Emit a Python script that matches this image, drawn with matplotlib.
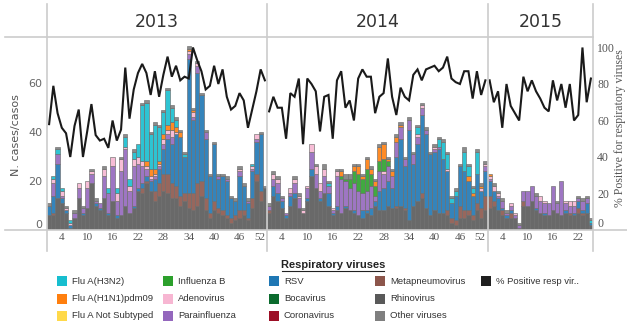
import matplotlib
matplotlib.use('Agg')
import matplotlib.pyplot as plt
import numpy as np
from matplotlib.patches import Rectangle

# ---- data (weekly counts) ----
rhino_2013 = [6,6,13,11,7,1,5,13,6,9,19,10,8,13,6,12,5,6,10,7,9,16,15,19,16,12,14,16,15,13,13,10,12,9,8,10,14,8,5,8,7,6,5,3,4,5,6,4,9,20,12,17]
metap_2013 = [0,1,0,0,0,0,0,0,0,0,0,0,0,0,0,0,0,0,0,0,0,0,2,1,0,4,5,7,8,6,5,4,3,6,7,9,6,5,2,4,2,2,1,2,2,3,2,1,4,3,4,0]
rsv_2013 = [4,7,14,2,1,1,0,0,1,0,0,1,1,0,1,0,1,0,0,0,1,1,2,2,4,5,6,10,14,16,21,24,15,55,30,45,35,24,15,23,12,14,14,8,6,14,10,6,11,13,23,0]
para_2013 = [0,5,4,1,0,0,2,4,2,8,4,1,2,9,8,14,6,18,23,9,16,10,7,3,1,1,1,2,2,3,0,0,0,2,1,3,0,3,0,0,1,0,1,0,0,2,0,1,1,1,0,0]
adeno_2013 = [0,2,0,2,1,1,0,2,0,3,1,0,0,3,0,4,3,5,1,2,3,3,2,1,1,1,1,2,2,3,1,0,0,1,2,1,0,0,0,0,0,0,0,0,0,1,0,0,1,2,0,0]
flub_2013 = [0] * 52
h1n1_2013 = [0] * 23 + [2,3,2,1,2,2,3,2,2,0,1,1] + [0] * 17
h3n2_2013 = [0,1,2,1,0,1,0,0,0,0,0,0,0,0,2,0,2,0,4,3,3,5,23,24,14,18,14,9,14,6,3,0,1,0,0,0,0,0,0,0,0,0,0,0,0,0,0,0,1,0,0,0]
other_2013 = [1,0,1,0,1,0,1,0,1,0,1,1,0,1,0,0,0,1,1,0,1,0,1,1,1,1,1,1,1,1,1,1,1,1,1,1,1,1,1,1,1,1,1,1,1,1,1,1,0,0,1,1]

rhino_2014 = [7,14,12,9,5,10,13,9,7,12,22,17,12,15,10,6,8,7,9,8,7,6,5,7,6,10,8,8,10,9,9,10,8,4,10,12,13,9,6,8,7,7,6,3,2,5,5,6,4,8,5,8]
metap_2014 = [1,0,0,0,0,0,0,0,0,0,0,0,0,0,0,0,0,0,0,0,0,0,0,0,0,0,0,0,0,0,1,0,1,0,0,0,2,0,0,0,0,0,2,2,2,5,3,2,2,3,4,6]
rsv_2014 = [0,4,3,3,1,4,2,0,0,1,3,0,1,0,5,1,2,0,1,0,1,0,3,1,3,2,8,9,10,8,20,27,17,37,17,23,32,30,25,24,26,22,16,6,10,16,16,12,8,12,7,10]
para_2014 = [2,3,4,1,1,1,4,4,0,4,7,6,3,7,3,1,12,14,10,9,11,10,7,8,9,2,8,6,6,5,6,5,3,4,4,3,3,2,0,1,1,0,0,0,0,0,0,0,0,0,0,2]
adeno_2014 = [0,2,2,0,0,2,2,1,1,1,3,3,3,3,0,1,2,0,0,0,0,0,0,0,0,0,0,1,0,0,0,0,0,0,0,1,1,0,0,1,0,0,1,0,0,0,0,0,0,0,1,1]
flub_2014 = [0] * 17 + [1,1,4,5,7,6,9,5,4,4,5,2] + [0] * 23
h1n1_2014 = [0] * 17 + [2,0,0,2,3,1,4,2,2,6,6,1,2,2,1] + [0] * 15 + [2,1,0,1,0]
h3n2_2014 = [0] * 14 + [1] + [0] * 20 + [3,0,0,0,0,3,7,6,2,2,0,8,4,2,9,0,0]
other_2014 = [1,1,1,1,0,0,1,1,1,0,0,1,0,2,1,0,1,1,2,2,1,1,1,1,1,1,1,1,1,1,1,1,1,1,1,1,1,1,1,1,1,1,1,1,1,1,2,1,1,1,1,1]

rhino_2015 = [9,10,8,6,5,5,5,1,10,10,12,8,7,6,6,8,7,6,7,6,6,7,6,7,2]
metap_2015 = [5,2,0,2,0,2,0,0,2,0,0,0,0,0,0,0,0,0,0,1,0,2,1,0,0]
rsv_2015 = [6,4,5,1,1,1,0,0,0,0,0,1,0,1,0,0,0,0,1,0,1,3,1,4,1]
para_2015 = [1,0,1,3,1,2,1,1,4,6,6,5,5,4,5,10,4,14,3,3,3,1,4,2,0]
adeno_2015 = [1,2,1,0,0,1,1,0,0,0,0,0,2,1,0,0,0,0,1,2,2,0,0,0,0]
flub_2015 = [0] * 25
h1n1_2015 = [1] + [0] * 24
h3n2_2015 = [0] * 24 + [1]
other_2015 = [0,1,1,1,1,0,0,1,0,0,0,1,0,0,0,0,1,0,0,0,0,1,1,1,1]

# % positive for respiratory viruses
pos_2013 = [58,79,64,56,53,40,57,66,40,54,69,52,49,50,45,60,49,55,89,61,77,86,91,86,74,87,73,85,95,84,
            90,82,84,83,100,93,87,77,79,90,80,88,73,66,68,75,71,56,66,76,88,82]
pos_2014 = [65,73,67,67,50,75,73,83,47,83,80,76,54,73,74,50,82,87,67,71,60,83,88,84,84,64,73,75,94,73,
            63,78,73,71,85,88,82,88,89,90,87,89,95,83,81,80,87,87,72,87,74,82]
pos_2015 = [82,70,76,56,80,68,64,60,84,76,82,76,72,67,65,82,71,80,67,80,60,63,100,70,83]

years = ['2013', '2014', '2015']
xtick_weeks = [[4,10,16,22,28,34,40,46,52], [4,10,16,22,28,34,40,46,52], [4,10,16,22]]

# stack order bottom -> top
stack_colors = ['#595959', '#8c564b', '#1f77b4', '#9467bd', '#f7b6d2', '#2ca02c', '#ff7f0e', '#17becf', '#7f7f7f']
stacks = [
    [rhino_2013, metap_2013, rsv_2013, para_2013, adeno_2013, flub_2013, h1n1_2013, h3n2_2013, other_2013],
    [rhino_2014, metap_2014, rsv_2014, para_2014, adeno_2014, flub_2014, h1n1_2014, h3n2_2014, other_2014],
    [rhino_2015, metap_2015, rsv_2015, para_2015, adeno_2015, flub_2015, h1n1_2015, h3n2_2015, other_2015],
]
positives = [pos_2013, pos_2014, pos_2015]

legend_labels = ['Flu A(H3N2)', 'Flu A(H1N1)pdm09', 'Flu A Not Subtyped',
                 'Influenza B', 'Adenovirus', 'Parainfluenza',
                 'RSV', 'Bocavirus', 'Coronavirus',
                 'Metapneumovirus', 'Rhinovirus', 'Other viruses',
                 '% Positive resp vir..']
legend_colors = ['#17becf', '#ff7f0e', '#ffd94a',
                 '#2ca02c', '#f7b6d2', '#9467bd',
                 '#1f77b4', '#0b6b2e', '#9c0f26',
                 '#8c564b', '#595959', '#7f7f7f',
                 '#1f1f1f']

# ---- layout (pixels) ----
W, H = 627, 322
edges = [47, 267, 487.5, 593]
y_top, y_bot = 37, 230

fig = plt.figure(figsize=(W / 100, H / 100), dpi=100)
serif = ['Liberation Serif', 'DejaVu Serif']
sans = ['Liberation Sans', 'DejaVu Sans']

for i in range(3):
    x0, x1 = edges[i], edges[i + 1]
    ax = fig.add_axes([x0 / W, (H - y_bot) / H, (x1 - x0) / W, (y_bot - y_top) / H])
    ax.patch.set_visible(False)
    n = len(positives[i])
    weeks = np.arange(1, n + 1)
    bottom = np.zeros(n)
    for vals, col in zip(stacks[i], stack_colors):
        vals = np.asarray(vals, float)
        m = vals > 0
        ax.bar(weeks[m], vals[m], bottom=bottom[m], width=1.0, color=col,
               edgecolor='#6e6e6e', linewidth=0.5, alpha=0.9)
        bottom += vals
    ax.set_xlim(0.5, n + 0.5)
    ax.set_ylim(0, 78.8)
    ax.set_xticks(xtick_weeks[i])
    ax.set_xticklabels([str(w) for w in xtick_weeks[i]], family=serif, fontsize=8, color='#555555')
    ax.tick_params(axis='x', length=0, pad=2.5)
    # last label squeezed inside the panel, as in the original
    if xtick_weeks[i][-1] == n:
        ax.get_xticklabels()[-1].set_ha('right')
    if i == 0:
        ax.set_yticks([0, 20, 40, 60])
        ax.tick_params(axis='y', length=0, pad=3.5, labelsize=8, labelcolor='#666666')
        ax.yaxis.get_major_ticks()[0].label1.set_va('bottom')
    else:
        ax.set_yticks([])
    for s in ax.spines.values():
        s.set_visible(False)

    ax2 = ax.twinx()
    ax2.plot(weeks, positives[i], color='#1a1a1a', lw=1.5, solid_joinstyle='miter')
    ax2.set_ylim(0, 105.75)
    if i == 2:
        ax2.set_yticks([0, 20, 40, 60, 80, 100])
        ax2.set_yticklabels(['0', '20', '40', '60', '80', '100'], family=serif, fontsize=8.5, color='#555555')
        ax2.tick_params(axis='y', length=0, pad=3)
        ax2.yaxis.get_major_ticks()[0].label2.set_va('bottom')
    else:
        ax2.set_yticks([])
    for s in ax2.spines.values():
        s.set_visible(False)

# overlay in pixel coordinates for frame lines, headers and legend
ov = fig.add_axes([0, 0, 1, 1], zorder=5)
ov.set_axis_off()
ov.set_xlim(0, W)
ov.set_ylim(H, 0)
line_c = '#cccccc'
ov.plot([5, 593], [y_top, y_top], color=line_c, lw=1.2)
ov.plot([5, 627], [y_bot, y_bot], color=line_c, lw=1.2)
for x in edges:
    ov.plot([x, x], [4, 251], color=line_c, lw=1.2)

for i, yr in enumerate(years):
    ov.text((edges[i] + edges[i + 1]) / 2, 22, yr, ha='center', va='center',
            fontsize=12.5, color='#333333')

ov.text(16, (y_top + y_bot) / 2 + 2, 'N. cases/casos', rotation=90, ha='center', va='center',
        fontsize=8, color='#555555')
ov.text(620, 128, '% Positive for respiratory viruses', rotation=90, ha='center', va='center',
        family=serif, fontsize=8.5, color='#555555')

# legend
ov.text(333, 265, 'Respiratory viruses', ha='center', va='center', family=sans,
        fontsize=8, fontweight='bold', color='#222222')
ov.plot([282, 384], [271, 271], color='#222222', lw=0.8)
for k, (lab, col) in enumerate(zip(legend_labels, legend_colors)):
    cx = 57 + (k // 3) * 106
    cy = 281 + (k % 3) * 17.5
    ov.add_patch(Rectangle((cx, cy - 5), 10, 10, facecolor=col, edgecolor='none'))
    ov.text(cx + 15, cy, lab, ha='left', va='center', family=sans, fontsize=6.8, color='#333333')

fig.savefig('out.png', dpi=100)
